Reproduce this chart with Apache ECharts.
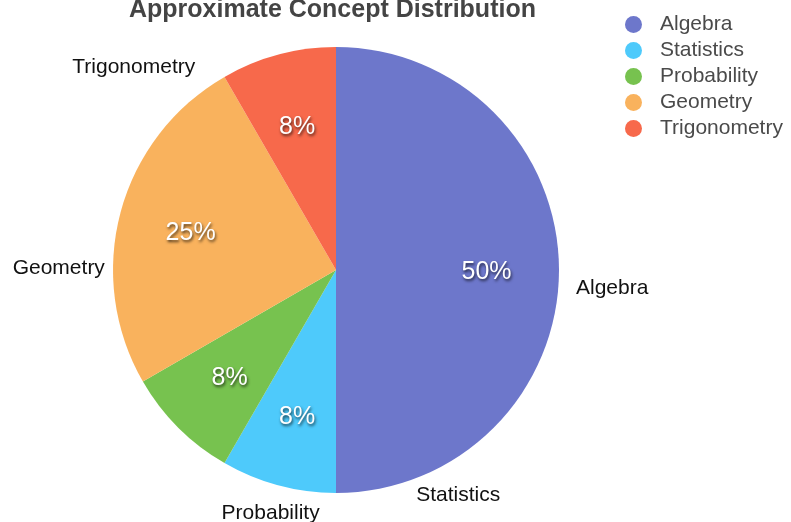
<!DOCTYPE html>
<html>
<head>
<meta charset="utf-8">
<script src="https://cdn.jsdelivr.net/npm/echarts@6/dist/echarts.min.js"></script>
<style>
  html, body { margin: 0; padding: 0; background: #fff; }
  #main { width: 791px; height: 522px; }
</style>
</head>
<body>
<div id="main"></div>
<script>
var chartTitle = 'Approximate Concept Distribution';
var topics = ['Algebra', 'Statistics', 'Probability', 'Geometry', 'Trigonometry'];
var weights = [6, 1, 1, 3, 1];
var colors = ['#6d77cb', '#4ecafb', '#77c24f', '#f9b25d', '#f7694b'];

// outer name labels sit a bit off the slice middles in the reference
var nameDx = [0, 233, 156, 1, -72];
var nameDy = [18, 2, 80, 58, 20];

var pieData = topics.map(function (name, i) {
    return { name: name, value: weights[i] };
});

var font = '"Liberation Sans", Arial, sans-serif';

var option = {
    color: colors,
    animation: false,
    title: {
        text: chartTitle,
        left: 124,
        top: -7,
        textStyle: {
            fontFamily: font,
            fontSize: 25,
            fontWeight: 'bold',
            color: '#444'
        }
    },
    legend: {
        orient: 'vertical',
        left: 620,
        top: 9,
        icon: 'circle',
        itemWidth: 17,
        itemHeight: 17,
        itemGap: 5,
        data: topics,
        textStyle: {
            fontFamily: font,
            fontSize: 21,
            color: '#4a4a4a',
            padding: [0, 0, 0, 13]
        }
    },
    series: [{
        name: 'names',
        type: 'pie',
        center: [336, 270],
        radius: 223,
        startAngle: 90,
        clockwise: true,
        data: pieData,
        label: {
            show: true,
            position: 'outside',
            fontFamily: font,
            fontSize: 21,
            color: '#111'
        },
        labelLine: { show: false, length: 8, length2: 4 },
        labelLayout: function (p) {
            return { dx: nameDx[p.dataIndex], dy: nameDy[p.dataIndex] };
        },
        emphasis: { disabled: true }
    }, {
        name: 'percent',
        type: 'pie',
        center: [336, 270],
        radius: 295,
        startAngle: 90,
        clockwise: true,
        silent: true,
        data: pieData,
        itemStyle: { color: 'transparent' },
        label: {
            show: true,
            position: 'inside',
            formatter: function (p) { return Math.round(p.percent) + '%'; },
            fontFamily: font,
            fontSize: 25,
            color: '#fff',
            textShadowColor: 'rgba(0,0,0,0.7)',
            textShadowBlur: 3,
            textShadowOffsetX: 1,
            textShadowOffsetY: 2
        },
        labelLayout: { dy: 2 },
        labelLine: { show: false },
        emphasis: { disabled: true }
    }]
};

var chart = echarts.init(document.getElementById('main'));
chart.setOption(option);
</script>
</body>
</html>
